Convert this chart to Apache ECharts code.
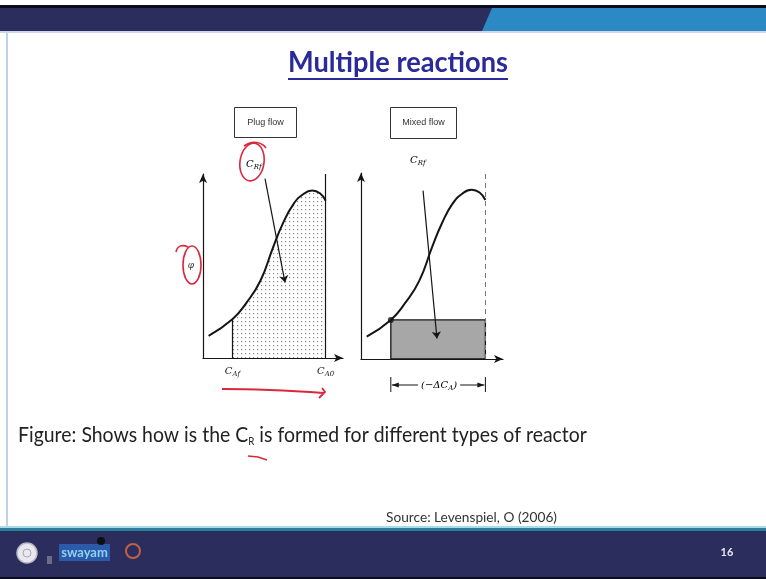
<!DOCTYPE html>
<html>
<head>
<meta charset="utf-8">
<script src="https://cdn.jsdelivr.net/npm/echarts@6/dist/echarts.min.js"></script>
<style>
html, body { margin: 0; padding: 0; background: #ffffff; }
#main { width: 766px; height: 579px; }
</style>
</head>
<body>
<div id="main"></div>
<script>
// Rate-of-formation curve phi against C_A (normalised units), used by both reactor panels
const curveX = [0.04, 0.21, 0.31, 0.41, 0.50, 0.57, 0.645, 0.715, 0.78, 0.835, 0.876];
const curveY = [0.12, 0.21, 0.30, 0.42, 0.60, 0.73, 0.835, 0.89, 0.91, 0.895, 0.855];
// Outlet and inlet concentrations of A
const cAf = 0.21;
const cA0 = 0.876;
// Panel headings and axis labels
const panelTitles = ['Plug flow', 'Mixed flow'];
const xTickLabels = ['{c|C}{s|Af}', '{c|C}{s|A0}'];

const curve = curveX.map((x, i) => [x, curveY[i]]);
const iAf = curveX.indexOf(cAf);
const phiAf = curveY[iAf];
const plugArea = curve.slice(iAf);

// fine dot screen for the plug-flow integral
function dotPattern() {
  const c = document.createElement('canvas');
  c.width = 4; c.height = 4;
  const g = c.getContext('2d');
  g.fillStyle = '#ffffff'; g.fillRect(0, 0, 4, 4);
  g.fillStyle = '#8a8a8a'; g.fillRect(1, 1, 1.2, 1.2);
  return c;
}

// horizontal squeeze needed for a line of text to span a given width
const measureCtx = document.createElement('canvas').getContext('2d');
function squeeze(text, font, target) {
  measureCtx.font = font;
  return target / measureCtx.measureText(text).width;
}

const ink = '#151515';
const sans = '"Liberation Sans", Arial, sans-serif';
const body = 'Lato, "Open Sans", sans-serif';
const axisLine = {
  show: true,
  symbol: ['none', 'arrow'],
  symbolSize: [6, 9],
  lineStyle: { color: ink, width: 1.2 }
};
const subRich = {
  c: { fontFamily: 'DejaVu Serif', fontStyle: 'italic', fontSize: 10, color: '#222' },
  s: { fontFamily: 'DejaVu Serif', fontStyle: 'italic', fontSize: 7, color: '#222', padding: [6, 0, 0, 0] }
};

const chart = echarts.init(document.getElementById('main'), null, { renderer: 'canvas' });

chart.setOption({
  animation: false,
  backgroundColor: '#ffffff',
  grid: [
    { left: 203, top: 174, width: 140, height: 184 },
    { left: 361, top: 173, width: 142, height: 186 }
  ],
  xAxis: [
    {
      gridIndex: 0, type: 'value', min: 0, max: 1,
      axisLine: axisLine, axisTick: { show: false }, splitLine: { show: false },
      axisLabel: {
        show: true, customValues: [cAf, cA0], margin: 7,
        formatter: v => (Math.abs(v - cAf) < 1e-9 ? xTickLabels[0] : xTickLabels[1]),
        rich: subRich
      }
    },
    {
      gridIndex: 1, type: 'value', min: 0, max: 1,
      axisLine: axisLine, axisTick: { show: false }, splitLine: { show: false },
      axisLabel: { show: false }
    }
  ],
  yAxis: [
    {
      gridIndex: 0, type: 'value', min: 0, max: 1,
      axisLine: axisLine, axisTick: { show: false }, splitLine: { show: false },
      axisLabel: { show: false },
      name: 'φ', nameLocation: 'middle', nameGap: 9, nameRotate: 0,
      nameTextStyle: { fontFamily: 'DejaVu Serif', fontStyle: 'italic', fontSize: 9, color: '#333' }
    },
    {
      gridIndex: 1, type: 'value', min: 0, max: 1,
      axisLine: axisLine, axisTick: { show: false }, splitLine: { show: false },
      axisLabel: { show: false }
    }
  ],
  series: [
    {
      // plug flow: C_Rf is the whole area under phi from C_Af to C_A0
      type: 'line', xAxisIndex: 0, yAxisIndex: 0,
      data: plugArea, smooth: true, symbol: 'none', silent: true,
      lineStyle: { width: 0 },
      areaStyle: { color: { image: dotPattern(), repeat: 'repeat' }, opacity: 1 },
      markLine: {
        silent: true, symbol: ['none', 'none'], label: { show: false },
        lineStyle: { color: ink, type: 'solid', width: 1.2 },
        data: [
          [{ coord: [cA0, 0] }, { coord: [cA0, 1] }],
          [{ coord: [cAf, 0] }, { coord: [cAf, phiAf] }],
          [{ coord: [0.443, 0.975] }, { coord: [0.586, 0.41], symbol: 'arrow', symbolSize: 7 }]
        ]
      }
    },
    {
      type: 'line', xAxisIndex: 0, yAxisIndex: 0,
      data: curve, smooth: true, symbol: 'none', silent: true,
      lineStyle: { color: ink, width: 2 }
    },
    {
      // mixed flow: C_Rf is the rectangle phi(C_Af) times (-dC_A)
      type: 'line', xAxisIndex: 1, yAxisIndex: 1,
      data: curve, smooth: true, symbol: 'none', silent: true,
      lineStyle: { color: ink, width: 2 },
      z: 3,
      markArea: {
        silent: true,
        itemStyle: { color: '#a7a7a7', borderColor: ink, borderWidth: 1.3 },
        data: [[{ coord: [cAf, 0] }, { coord: [cA0, phiAf] }]]
      },
      markLine: {
        silent: true, symbol: ['none', 'none'], label: { show: false },
        data: [
          [{ coord: [cA0, 0], lineStyle: { color: '#777', type: [5, 4], width: 1 } },
           { coord: [cA0, 1] }],
          [{ coord: [0.437, 0.905], lineStyle: { color: ink, type: 'solid', width: 1.2 } },
           { coord: [0.535, 0.11], symbol: 'arrow', symbolSize: 7 }]
        ]
      }
    },
    {
      type: 'scatter', xAxisIndex: 1, yAxisIndex: 1,
      data: [[cAf, phiAf]], symbolSize: 6, silent: true,
      itemStyle: { color: ink }, z: 4
    }
  ]
});

// positions that depend on the axes
const pAf = chart.convertToPixel({ gridIndex: 1 }, [cAf, 0]);
const pA0 = chart.convertToPixel({ gridIndex: 1 }, [cA0, 0]);
const dimY = pAf[1] + 26;
const arrowL = chart.convertToPixel({ gridIndex: 0 }, [0.443, 0.975]);
const arrowR = chart.convertToPixel({ gridIndex: 1 }, [0.437, 0.905]);
const dimMid = (pAf[0] + pA0[0]) / 2;

const red = '#d8283c';
const navy = '#2b2d5c';

const titleText = 'Multiple reactions';
const titleFont = 'bold 29px ' + body;
const captionFont = '22px ' + body;
const captionPlain = 'Figure: Shows how is the CR is formed for different types of reactor';
const sourceText = 'Source: Levenspiel, O (2006)';
const sourceFont = '13px ' + body;

const graphic = [
  // header band
  { type: 'rect', shape: { x: 0, y: 5, width: 766, height: 3 }, style: { fill: '#0c0c1e' }, silent: true },
  { type: 'rect', shape: { x: 0, y: 8, width: 766, height: 23 }, style: { fill: navy }, silent: true },
  { type: 'polygon', shape: { points: [[492, 8], [766, 8], [766, 31], [482, 31]] }, style: { fill: '#2b89c4' }, silent: true },
  { type: 'rect', shape: { x: 0, y: 31, width: 766, height: 2 }, style: { fill: '#cfd6e6' }, silent: true },
  // left rule
  { type: 'rect', shape: { x: 6, y: 33, width: 2, height: 493 }, style: { fill: '#bdd3ea' }, silent: true },
  // footer band
  { type: 'rect', shape: { x: 0, y: 526, width: 766, height: 2 }, style: { fill: '#a9dbe9' }, silent: true },
  { type: 'rect', shape: { x: 0, y: 528, width: 766, height: 3 }, style: { fill: '#2c7f9c' }, silent: true },
  { type: 'rect', shape: { x: 0, y: 531, width: 766, height: 46 }, style: { fill: navy }, silent: true },
  { type: 'rect', shape: { x: 0, y: 577, width: 766, height: 2 }, style: { fill: '#0c0c1e' }, silent: true },
  // footer emblems
  { type: 'circle', shape: { cx: 27, cy: 553, r: 10 }, style: { fill: '#e8e8ee', stroke: '#b9b9c8', lineWidth: 1.5 }, silent: true },
  { type: 'circle', shape: { cx: 27, cy: 553, r: 4 }, style: { fill: 'none', stroke: '#a8a8b8', lineWidth: 1 }, silent: true },
  { type: 'rect', shape: { x: 47, y: 556, width: 5, height: 8 }, style: { fill: '#6b6d86' }, silent: true },
  { type: 'rect', shape: { x: 59, y: 544, width: 51, height: 17 }, style: { fill: '#2a5aa8' }, silent: true },
  { type: 'text', style: { text: 'swayam', x: 84.5, y: 553, align: 'center', verticalAlign: 'middle', font: 'bold 13px ' + body, fill: '#8fd0f4' }, silent: true },
  { type: 'circle', shape: { cx: 101, cy: 541, r: 4 }, style: { fill: '#0d0d18' }, silent: true },
  { type: 'circle', shape: { cx: 133, cy: 551, r: 7 }, style: { fill: 'none', stroke: '#c0604a', lineWidth: 2 }, silent: true },
  { type: 'text', style: { text: '16', x: 727, y: 552, align: 'center', verticalAlign: 'middle', font: 'bold 11px ' + body, fill: '#e6e6f0' }, silent: true },

  // slide title
  { type: 'text', x: 398, y: 63, scaleX: squeeze(titleText, titleFont, 220), originX: 0,
    style: { text: titleText, x: 0, y: 0, align: 'center', verticalAlign: 'middle', font: titleFont, fill: '#2a2a98' }, silent: true },
  { type: 'rect', shape: { x: 288, y: 78, width: 220, height: 2 }, style: { fill: '#2a2a98' }, silent: true },

  // panel headings
  { type: 'rect', shape: { x: 234.5, y: 107.5, width: 62, height: 30 }, style: { fill: '#fff', stroke: '#333', lineWidth: 1 }, silent: true },
  { type: 'text', style: { text: panelTitles[0], x: 265.5, y: 122.5, align: 'center', verticalAlign: 'middle', font: '9px ' + sans, fill: '#333' }, silent: true },
  { type: 'rect', shape: { x: 390.5, y: 107.5, width: 66, height: 31 }, style: { fill: '#fff', stroke: '#333', lineWidth: 1 }, silent: true },
  { type: 'text', style: { text: panelTitles[1], x: 423.5, y: 123, align: 'center', verticalAlign: 'middle', font: '9px ' + sans, fill: '#333' }, silent: true },

  // C_Rf labels at the arrow tails
  { type: 'text', style: { text: '{c|C}{s|Rf}', rich: subRich, x: arrowL[0] - 19, y: arrowL[1] - 14, align: 'left', verticalAlign: 'middle' }, silent: true },
  { type: 'text', style: { text: '{c|C}{s|Rf}', rich: subRich, x: arrowR[0] - 13, y: arrowR[1] - 30, align: 'left', verticalAlign: 'middle' }, silent: true },

  // (-dC_A) dimension under the mixed-flow rectangle
  { type: 'line', shape: { x1: pAf[0], y1: dimY - 8, x2: pAf[0], y2: dimY + 7 }, style: { stroke: ink, lineWidth: 1 }, silent: true },
  { type: 'line', shape: { x1: pA0[0], y1: dimY - 8, x2: pA0[0], y2: dimY + 7 }, style: { stroke: ink, lineWidth: 1 }, silent: true },
  { type: 'line', shape: { x1: pAf[0] + 1, y1: dimY, x2: dimMid - 20, y2: dimY }, style: { stroke: ink, lineWidth: 1 }, silent: true },
  { type: 'line', shape: { x1: dimMid + 22, y1: dimY, x2: pA0[0] - 1, y2: dimY }, style: { stroke: ink, lineWidth: 1 }, silent: true },
  { type: 'polygon', shape: { points: [[pAf[0] + 1, dimY], [pAf[0] + 8, dimY - 2.5], [pAf[0] + 8, dimY + 2.5]] }, style: { fill: ink }, silent: true },
  { type: 'polygon', shape: { points: [[pA0[0] - 1, dimY], [pA0[0] - 8, dimY - 2.5], [pA0[0] - 8, dimY + 2.5]] }, style: { fill: ink }, silent: true },
  { type: 'text', style: { text: '{c|(−ΔC}{s|A}{c|)}', rich: subRich, x: dimMid + 1, y: dimY, align: 'center', verticalAlign: 'middle' }, silent: true },

  // caption and source
  { type: 'text', x: 18, y: 435, scaleX: squeeze(captionPlain, captionFont, 575), originX: 0,
    style: {
      text: 'Figure: Shows how is the C{s|R} is formed for different types of reactor',
      x: 0, y: 0, align: 'left', verticalAlign: 'middle',
      font: captionFont, fill: '#222',
      rich: { s: { fontFamily: 'Lato', fontSize: 11, color: '#222', padding: [12, 0, 0, 0] } }
    }, silent: true },
  { type: 'text', x: 386, y: 518, scaleX: squeeze(sourceText, sourceFont, 171), originX: 0,
    style: { text: sourceText, x: 0, y: 0, align: 'left', verticalAlign: 'middle', font: sourceFont, fill: '#333' }, silent: true },

  // red pen marks
  { type: 'ellipse', shape: { cx: 252, cy: 162, rx: 12, ry: 19 }, rotation: -0.15, originX: 252, originY: 162, style: { fill: 'none', stroke: red, lineWidth: 1.6 }, silent: true },
  { type: 'bezierCurve', shape: { x1: 244, y1: 146, cpx1: 252, cpy1: 140, cpx2: 262, cpy2: 142, x2: 266, y2: 148 }, style: { fill: 'none', stroke: red, lineWidth: 1.6 }, silent: true },
  { type: 'ellipse', shape: { cx: 192, cy: 265, rx: 9, ry: 19 }, style: { fill: 'none', stroke: red, lineWidth: 1.6 }, silent: true },
  { type: 'bezierCurve', shape: { x1: 188, y1: 247, cpx1: 182, cpy1: 244, cpx2: 177, cpy2: 246, x2: 176, y2: 252 }, style: { fill: 'none', stroke: red, lineWidth: 1.6 }, silent: true },
  { type: 'bezierCurve', shape: { x1: 222, y1: 389, cpx1: 255, cpy1: 389, cpx2: 295, cpy2: 391, x2: 324, y2: 393 }, style: { fill: 'none', stroke: red, lineWidth: 1.8 }, silent: true },
  { type: 'polyline', shape: { points: [[322, 388], [325, 392], [319, 398]] }, style: { fill: 'none', stroke: red, lineWidth: 1.8 }, silent: true },
  { type: 'polyline', shape: { points: [[248, 456], [258, 457], [267, 460]] }, style: { fill: 'none', stroke: red, lineWidth: 1.6 }, silent: true }
];

chart.setOption({ graphic: graphic });
</script>
</body>
</html>
